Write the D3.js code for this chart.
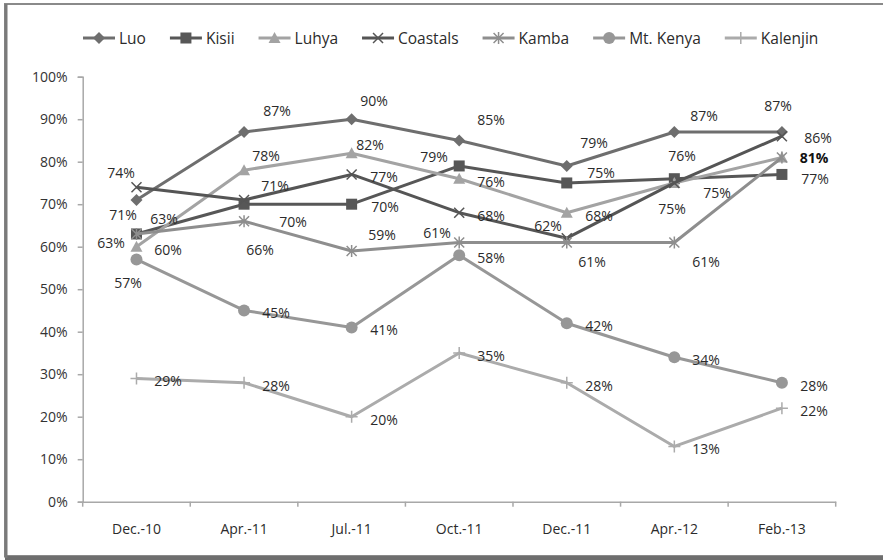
<!DOCTYPE html>
<html>
<head>
<meta charset="utf-8">
<script src="https://cdn.jsdelivr.net/npm/d3@7"></script>
<style>
  html, body { margin: 0; padding: 0; background: #fff; }
  svg { display: block; font-family: "Open Sans", "Liberation Sans", sans-serif; }
</style>
</head>
<body>
<svg id="chart" width="883" height="560"></svg>
<script>
// Survey periods on the x axis
const periods = ["Dec.-10", "Apr.-11", "Jul.-11", "Oct.-11", "Dec.-11", "Apr.-12", "Feb.-13"];

// Share per group, in percent
const luo      = [71, 87, 90, 85, 79, 87, 87];
const kisii    = [63, 70, 70, 79, 75, 76, 77];
const luhya    = [60, 78, 82, 76, 68, 75, 81];
const coastals = [74, 71, 77, 68, 62, 75, 86];
const kamba    = [63, 66, 59, 61, 61, 61, 81];
const mtKenya  = [57, 45, 41, 58, 42, 34, 28];
const kalenjin = [29, 28, 20, 35, 28, 13, 22];

const seriesNames = ["Luo", "Kisii", "Luhya", "Coastals", "Kamba", "Mt. Kenya", "Kalenjin"];
const seriesValues = [luo, kisii, luhya, coastals, kamba, mtKenya, kalenjin];

// Y axis tick values (fractions)
const yTicks = [0, 0.1, 0.2, 0.3, 0.4, 0.5, 0.6, 0.7, 0.8, 0.9, 1.0];

// Look of each series: stroke colour and marker shape
const seriesStyle = [
  { color: "#6e6e6e", marker: "diamond" },
  { color: "#575757", marker: "square" },
  { color: "#a3a3a3", marker: "triangle" },
  { color: "#555555", marker: "x" },
  { color: "#8e8e8e", marker: "asterisk" },
  { color: "#979797", marker: "circle" },
  { color: "#ababab", marker: "plus" }
];

// Where each value label sits relative to its marker (centre offsets in px)
const R = [32, 2];
const labelOffsets = [
  [[-13, 14], [33, -22], [22, -19], [32, -21], [27, -24], [30, -17], [-4, -27]],
  [[28, -16], [49, 17], [33, 2], [-25, -10], [34, -11], [8, -24], [33, 4]],
  [R, [22, -15], [18, -9], R, R, [43, 9], [32, 0]],
  [[-15, -15], [31, -15], R, R, [-19, -13], [-2, 25], [36, 1]],
  [[-25, 8], [16, 28], [30, -17], [-22, -10], [25, 19], [32, 19], [32, 0]],
  [[-8, 23], R, R, R, R, R, R],
  [R, R, R, R, R, R, R]
];

const svg = d3.select("#chart");

// Outer frame
svg.append("rect").attr("x", 5).attr("y", 4).attr("width", 900).attr("height", 552)
  .attr("fill", "none").attr("stroke", "#8a8a8a").attr("stroke-width", 2);
svg.append("line").attr("x1", 5).attr("x2", 883).attr("y1", 558).attr("y2", 558)
  .attr("stroke", "#6e6e6e").attr("stroke-width", 4);
svg.append("line").attr("x1", 6).attr("x2", 6).attr("y1", 4).attr("y2", 558)
  .attr("stroke", "#7a7a7a").attr("stroke-width", 3);

const plotLeft = 82.7, plotRight = 835.7, plotTop = 76.7, plotBottom = 501.7;

const x = d3.scaleBand().domain(periods).range([plotLeft, plotRight]).padding(0);
const y = d3.scaleLinear().domain([0, 1]).range([plotBottom, plotTop]);
const cx = p => x(p) + x.bandwidth() / 2;

const axisColor = "#a8a8a8";

// Y axis
const yAxis = svg.append("g").attr("transform", `translate(${plotLeft},0)`)
  .call(d3.axisLeft(y).tickValues(yTicks).tickFormat(d3.format(".0%")).tickSize(5).tickPadding(10));
yAxis.select(".domain").attr("stroke", axisColor).attr("stroke-width", 1.5);
yAxis.selectAll(".tick line").attr("stroke", axisColor).attr("stroke-width", 1.5);
yAxis.selectAll(".tick text").attr("fill", "#333").style("font-size", "14px")
  .style("font-family", "'Open Sans', sans-serif");

// X axis: labels centred on bands, ticks on band edges
const xAxis = svg.append("g").attr("transform", `translate(0,${plotBottom})`)
  .call(d3.axisBottom(x).tickSize(0).tickPadding(22));
xAxis.select(".domain").attr("stroke", axisColor).attr("stroke-width", 1.5);
xAxis.selectAll(".tick text").attr("fill", "#2b2b2b").style("font-size", "14px")
  .style("font-family", "'Open Sans', sans-serif");
const edges = periods.map(p => x(p)).concat([plotRight]);
xAxis.selectAll("line.edge").data(edges).join("line").attr("class", "edge")
  .attr("x1", d => d).attr("x2", d => d).attr("y1", 0).attr("y2", 5)
  .attr("stroke", axisColor).attr("stroke-width", 1.5);

// Marker drawing
function drawMarker(g, shape, color, px, py) {
  const s = 5;
  if (shape === "diamond") {
    g.append("path").attr("d", `M${px},${py - 6}L${px + 6},${py}L${px},${py + 6}L${px - 6},${py}Z`).attr("fill", color);
  } else if (shape === "square") {
    g.append("rect").attr("x", px - 5.5).attr("y", py - 5.5).attr("width", 11).attr("height", 11).attr("fill", color);
  } else if (shape === "triangle") {
    g.append("path").attr("d", `M${px},${py - 6}L${px + 6},${py + 5}L${px - 6},${py + 5}Z`).attr("fill", color);
  } else if (shape === "circle") {
    g.append("circle").attr("cx", px).attr("cy", py).attr("r", 6).attr("fill", color);
  } else if (shape === "x") {
    g.append("path").attr("d", `M${px - s},${py - s}L${px + s},${py + s}M${px - s},${py + s}L${px + s},${py - s}`)
      .attr("stroke", color).attr("stroke-width", 1.5).attr("fill", "none");
  } else if (shape === "asterisk") {
    g.append("path").attr("d", `M${px - s},${py - s}L${px + s},${py + s}M${px - s},${py + s}L${px + s},${py - s}M${px},${py - 6}L${px},${py + 6}`)
      .attr("stroke", color).attr("stroke-width", 1.5).attr("fill", "none");
  } else if (shape === "plus") {
    g.append("path").attr("d", `M${px - 6},${py}L${px + 6},${py}M${px},${py - 6}L${px},${py + 6}`)
      .attr("stroke", color).attr("stroke-width", 1.5).attr("fill", "none");
  }
}

const line = d3.line().x((d, i) => cx(periods[i])).y(d => y(d / 100));

// Series lines and markers
seriesValues.forEach((vals, si) => {
  const st = seriesStyle[si];
  const g = svg.append("g");
  g.append("path").datum(vals).attr("d", line).attr("fill", "none")
    .attr("stroke", st.color).attr("stroke-width", 3).attr("stroke-linejoin", "round");
  vals.forEach((v, i) => drawMarker(g, st.marker, st.color, cx(periods[i]), y(v / 100)));
});

// Value labels; labels that land on the same spot with the same text
// are drawn once, in a heavier weight
const labels = [];
seriesValues.forEach((vals, si) => {
  vals.forEach((v, i) => {
    const lx = Math.round(cx(periods[i]) + labelOffsets[si][i][0]);
    const ly = Math.round(y(v / 100) + labelOffsets[si][i][1]);
    const same = labels.find(l => l.text === v + "%" && Math.abs(l.x - lx) < 3 && Math.abs(l.y - ly) < 3);
    if (same) same.count += 1;
    else labels.push({ x: lx, y: ly, text: v + "%", count: 1 });
  });
});
svg.append("g").selectAll("text").data(labels).join("text")
  .attr("x", d => d.x).attr("y", d => d.y)
  .attr("text-anchor", "middle").attr("dominant-baseline", "central")
  .attr("fill", d => d.count > 1 ? "#111" : "#2b2b2b")
  .style("font-size", "14px").style("font-weight", d => d.count > 1 ? 700 : 400)
  .text(d => d.text);

// Legend
const legend = svg.append("g").attr("transform", "translate(83,38)");
let lx = 0;
seriesNames.forEach((name, si) => {
  const st = seriesStyle[si];
  const g = legend.append("g");
  g.append("line").attr("x1", lx).attr("x2", lx + 32).attr("y1", 0).attr("y2", 0)
    .attr("stroke", st.color).attr("stroke-width", 3);
  drawMarker(g, st.marker, st.color, lx + 16, 0);
  const t = g.append("text").attr("x", lx + 36).attr("y", 0).attr("dominant-baseline", "central")
    .attr("fill", "#2b2b2b").style("font-size", "15.5px").text(name);
  lx += 36 + t.node().getComputedTextLength() + 24;
});
</script>
</body>
</html>
